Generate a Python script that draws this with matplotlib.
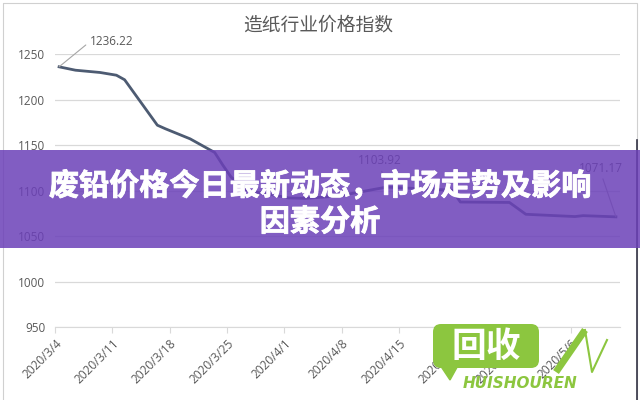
import matplotlib
matplotlib.use("Agg")
import matplotlib.pyplot as plt
import matplotlib.dates as mdates
import matplotlib.patheffects as pe
from matplotlib.patches import Rectangle, FancyBboxPatch
import datetime as dt

plt.rcParams['font.family'] = ['Noto Sans CJK SC', 'DejaVu Sans']

# ---------------- data ----------------
title = "造纸行业价格指数"
banner_line1 = "废铅价格今日最新动态，市场走势及影响"
banner_line2 = "因素分析"

dates = ["2020-03-04", "2020-03-06", "2020-03-09", "2020-03-11", "2020-03-12",
         "2020-03-16", "2020-03-17", "2020-03-20", "2020-03-23", "2020-03-24",
         "2020-03-25", "2020-03-27", "2020-03-30", "2020-04-01", "2020-04-03",
         "2020-04-07", "2020-04-13", "2020-04-21", "2020-04-22", "2020-04-28",
         "2020-04-30", "2020-05-06", "2020-05-07", "2020-05-11"]
values = [1236.22, 1232.5, 1230.0, 1227.0, 1222.0,
          1172.0, 1168.0, 1157.0, 1142.0, 1128.0,
          1115.0, 1100.0, 1095.5, 1092.0, 1091.5,
          1094.0, 1103.92, 1100.5, 1087.5, 1087.0,
          1074.0, 1071.5, 1072.5, 1071.17]

tick_dates = ["2020-03-04", "2020-03-11", "2020-03-18", "2020-03-25", "2020-04-01",
              "2020-04-08", "2020-04-15", "2020-04-22", "2020-04-29", "2020-05-06"]
tick_labels = ["2020/3/4", "2020/3/11", "2020/3/18", "2020/3/25", "2020/4/1",
               "2020/4/8", "2020/4/15", "2020/4/22", "2020/4/29", "2020/5/6"]
y_ticks = [950, 1000, 1050, 1100, 1150, 1200, 1250]

# labelled points: (index into data, label text, offset in points)
label_idx = [0, 16, 23]
label_offsets = [(22, 18), (-5, 19), (-11, 35)]

# ---------------- figure ----------------
to_num = lambda s: mdates.date2num(dt.datetime.strptime(s, "%Y-%m-%d"))
xs = [to_num(d) for d in dates]
txs = [to_num(d) - 0.5 for d in tick_dates]

fig = plt.figure(figsize=(6.4, 4.0), dpi=100)
fig.patch.set_facecolor("white")
ax = fig.add_axes([55 / 640, 1 - 327 / 400, (620 - 55) / 640, (327 - 54.3) / 400])

grid_c = "#d9d9d9"
txt_c = "#595959"

ax.plot(xs, values, color="#4d5b72", lw=2.0, solid_joinstyle="round", zorder=3)
ax.set_xlim(xs[0] - 0.5, xs[-1] + 0.5)
ax.set_ylim(950, 1250)
ax.set_yticks(y_ticks)
ax.set_yticklabels([str(v) for v in y_ticks], fontsize=8.5, color=txt_c,
                   family=["Open Sans", "DejaVu Sans"])
ax.yaxis.grid(True, color=grid_c, lw=0.9)
ax.set_axisbelow(True)
ax.tick_params(axis="y", length=0, pad=7)
ax.set_xticks(txs)
ax.set_xticklabels(tick_labels, rotation=45, ha="right", va="top",
                   rotation_mode="anchor", fontsize=8.6, color=txt_c,
                   family=["Open Sans", "DejaVu Sans"])
ax.tick_params(axis="x", length=4, color=grid_c, pad=3)
for s in ["top", "right", "left"]:
    ax.spines[s].set_visible(False)
ax.spines["bottom"].set_color(grid_c)
ax.set_facecolor("none")

for i, off in zip(label_idx, label_offsets):
    ax.annotate(f"{values[i]:.2f}", xy=(xs[i], values[i]), xytext=off,
                textcoords="offset points", ha="left" if off[0] > 0 else "center",
                va="center", fontsize=8.5, color=txt_c,
                family=["Open Sans", "DejaVu Sans"],
                arrowprops=dict(arrowstyle="-", color="#a6a6a6", lw=0.8,
                                shrinkA=1, shrinkB=0,
                                relpos=(0, 0.5) if off[0] > 0 else (0.5, 0.2)))

# ---------------- overlay (pixel coordinates) ----------------
ov = fig.add_axes([0, 0, 1, 1], zorder=10)
ov.set_xlim(0, 640)
ov.set_ylim(400, 0)
ov.axis("off")
ov.patch.set_alpha(0)

# screenshot frame
ov.add_patch(Rectangle((3, 3), 634, 400, fill=False, ec="#d0d0d0", lw=0.8))
ov.plot([637, 637], [140, 400], color="#333344", lw=1.2)

# title
ov.text(318, 25, title, ha="center", va="center", fontsize=13.5, color=txt_c)

# purple banner
ov.add_patch(Rectangle((0, 150), 640, 98, fc=(0.42, 0.25, 0.72), alpha=0.85,
                       ec="none", zorder=5))
heavy = [pe.withStroke(linewidth=0.6, foreground="white")]
ov.text(320, 186, banner_line1, ha="center", va="center", fontsize=21.7,
        fontweight="black", color="white", zorder=6, path_effects=heavy)
ov.text(320, 222, banner_line2, ha="center", va="center", fontsize=21.7,
        fontweight="black", color="white", zorder=6, path_effects=heavy)

# watermark logo
green = "#8cc63f"
ov.add_patch(FancyBboxPatch((435, 326), 102, 40, boxstyle="round,pad=2,rounding_size=8",
                            fc=green, ec="none", zorder=7))
ov.fill([438, 450, 460], [362, 380, 362], color=green, zorder=7)
ov.text(486, 346, "回收", ha="center", va="center", fontsize=25,
        fontweight="bold", color="white", zorder=8)
ov.text(520, 384, "HUISHOUREN", ha="center", va="center", fontsize=11,
        fontweight="bold", style="italic", color=green, zorder=8,
        family=["DejaVu Sans"])
ov.plot([556, 585], [372, 330], color=green, lw=5, solid_capstyle="butt", zorder=7)
ov.plot([585, 592, 607], [330, 372, 340], color=green, lw=1.5, zorder=7)

fig.savefig("out.png", dpi=100)
